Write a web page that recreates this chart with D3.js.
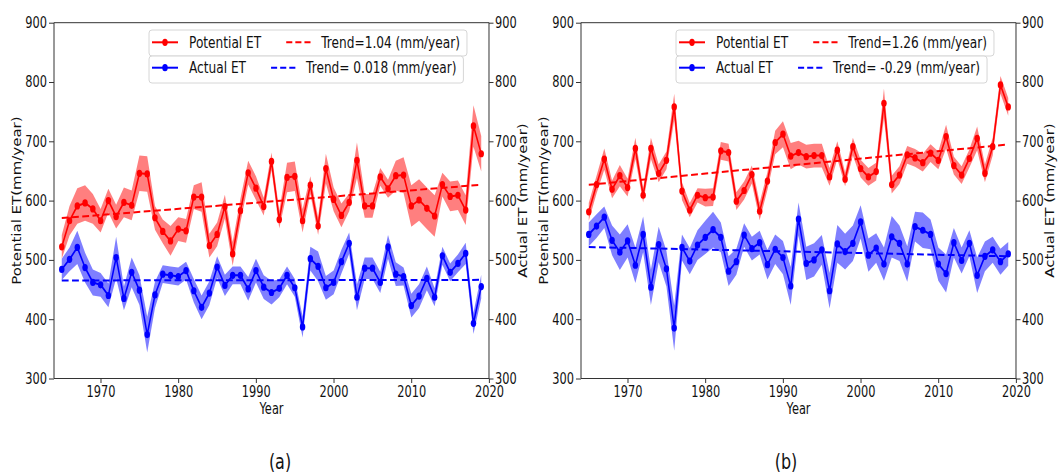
<!DOCTYPE html>
<html>
<head>
<meta charset="utf-8">
<script src="https://cdn.jsdelivr.net/npm/d3@7"></script>
<style>
  body { margin: 0; background: #fff; }
  text { font-family: "DejaVu Sans", sans-serif; fill: #111; }
</style>
</head>
<body>
<svg id="chart" width="1058" height="474"></svg>
<script>
// ---- data -------------------------------------------------------------
const years = [1965,1966,1967,1968,1969,1970,1971,1972,1973,1974,
               1975,1976,1977,1978,1979,1980,1981,1982,1983,1984,
               1985,1986,1987,1988,1989,1990,1991,1992,1993,1994,
               1995,1996,1997,1998,1999,2000,2001,2002,2003,2004,
               2005,2006,2007,2008,2009,2010,2011,2012,2013,2014,
               2015,2016,2017,2018,2019];

// panel (a)
const petA = [522,566,591,596,586,566,600,573,597,592,
              646,645,571,548,532,552,549,606,606,524,
              543,590,510,583,647,621,590,666,568,639,
              641,566,626,557,654,602,575,597,668,591,
              591,640,620,642,643,591,601,587,574,627,
              607,609,584,726,679];
const petASpread = [20,25,30,30,25,20,20,20,25,25,
                    30,30,20,20,25,20,20,20,25,20,
                    20,20,20,20,20,20,15,15,15,25,
                    25,20,15,15,25,20,20,15,30,20,
                    20,15,15,25,30,35,35,35,35,20,
                    25,25,25,35,30];
const aetA = [484,501,521,487,462,458,440,504,435,479,
              449,374,441,476,474,472,482,448,420,444,
              488,457,474,474,451,482,454,445,452,474,
              453,387,502,489,453,462,497,528,437,486,
              486,462,522,476,472,423,439,469,437,507,
              479,494,511,393,455];
const aetASpread = [18,20,28,25,22,20,20,35,20,25,
                    25,30,22,15,15,15,15,20,20,20,
                    18,18,15,15,20,20,20,20,15,15,
                    15,18,20,25,20,20,20,18,22,18,
                    18,18,20,20,15,20,20,20,15,15,
                    15,15,18,18,20];
const trendSlopesA = [1.04, 0.018];
const trendLabelsA = ["Trend=1.04 (mm/year)", "Trend= 0.018 (mm/year)"];

// panel (b)
const petB = [581,627,670,619,642,622,688,609,688,646,
              668,758,616,584,609,605,606,684,681,599,
              617,644,582,633,698,712,675,681,674,676,
              676,640,685,636,691,654,640,649,764,627,
              643,677,672,664,680,668,708,659,643,671,
              705,646,691,795,758];
const petBSpread = [15,15,18,15,18,15,18,12,18,15,
                    15,22,15,12,12,15,15,15,15,15,
                    15,15,15,15,20,22,22,20,20,20,
                    20,15,15,12,15,15,15,15,25,15,
                    15,15,15,15,15,15,20,15,15,15,
                    20,15,15,15,15];
const aetB = [543,557,572,533,513,532,491,543,454,526,
              485,385,521,498,525,538,551,538,481,497,
              542,519,529,492,518,504,456,569,494,500,
              517,448,527,514,528,564,508,520,493,539,
              528,493,556,550,543,493,477,529,499,528,
              474,506,517,497,510];
const aetBSpread = [20,20,18,25,30,28,30,30,30,30,
                    30,38,22,22,25,28,30,25,25,22,
                    20,20,20,25,25,28,32,28,28,28,
                    25,30,32,30,30,28,28,25,28,35,
                    30,30,25,30,25,28,32,25,22,22,
                    30,25,22,22,20];
const trendSlopesB = [1.26, -0.29];
const trendLabelsB = ["Trend=1.26 (mm/year)", "Trend= -0.29 (mm/year)"];

const seriesNames = ["Potential ET", "Actual ET"];
const yTicks = [300, 400, 500, 600, 700, 800, 900];
const xTicks = [1970, 1980, 1990, 2000, 2010, 2020];
const captions = ["(a)", "(b)"];

// ---- layout -----------------------------------------------------------
const S = 0.76;                 // the figure is drawn horizontally condensed
const ix = px => px / S;        // figure pixels -> inner (unscaled) units
const plotTop = 22.7, plotBottom = 378.5;
const RED = "#ff0000", BLUE = "#0000ff";

const svg = d3.select("#chart");
const root = svg.append("g").attr("transform", `scale(${S},1)`);

const panels = [
  { left: 54,  right: 489,  pet: petA, petSpread: petASpread, aet: aetA, aetSpread: aetASpread,
    slopes: trendSlopesA, trendLabels: trendLabelsA, caption: captions[0], captionX: 280 },
  { left: 581, right: 1016, pet: petB, petSpread: petBSpread, aet: aetB, aetSpread: aetBSpread,
    slopes: trendSlopesB, trendLabels: trendLabelsB, caption: captions[1], captionX: 786 }
];

panels.forEach(p => {
  const g = root.append("g");
  const x = d3.scaleLinear().domain([1964, 2020]).range([ix(p.left), ix(p.right)]);
  const y = d3.scaleLinear().domain([300, 900]).range([plotBottom, plotTop]);

  function drawSeries(values, spread, slope, color) {
    const band = d3.area()
      .x((d, i) => x(years[i]))
      .y0((d, i) => y(d - spread[i]))
      .y1((d, i) => y(d + spread[i]));
    g.append("path").datum(values).attr("d", band)
      .attr("fill", color).attr("fill-opacity", 0.5).attr("stroke", "none");

    const line = d3.line().x((d, i) => x(years[i])).y(d => y(d));
    g.append("path").datum(values).attr("d", line)
      .attr("fill", "none").attr("stroke", color).attr("stroke-width", 2)
      .attr("stroke-linejoin", "round");

    // least-squares trend line with the stated slope through the mean point
    const my = d3.mean(years), mv = d3.mean(values);
    const t = yr => mv + slope * (yr - my);
    const ends = [years[0], years[years.length - 1]];
    g.append("path").datum(ends)
      .attr("d", d3.line().x(d => x(d)).y(d => y(t(d))))
      .attr("fill", "none").attr("stroke", color).attr("stroke-width", 2)
      .attr("stroke-dasharray", "9,4.5");

    g.selectAll(null).data(values).enter().append("circle")
      .attr("cx", (d, i) => x(years[i])).attr("cy", d => y(d))
      .attr("r", 3.6).attr("fill", color);
  }

  drawSeries(p.pet, p.petSpread, p.slopes[0], RED);
  drawSeries(p.aet, p.aetSpread, p.slopes[1], BLUE);

  // frame
  g.append("rect")
    .attr("x", ix(p.left)).attr("y", plotTop)
    .attr("width", ix(p.right) - ix(p.left)).attr("height", plotBottom - plotTop)
    .attr("fill", "none").attr("stroke", "#333").attr("stroke-width", 1)
    .attr("vector-effect", "non-scaling-stroke");

  function styleAxis(sel) {
    sel.attr("font-size", 15).attr("font-family", "DejaVu Sans, sans-serif");
    sel.select(".domain").remove();
    sel.selectAll(".tick line").attr("stroke", "#333").attr("vector-effect", "non-scaling-stroke");
    sel.selectAll(".tick text").attr("fill", "#111");
  }

  g.append("g").attr("transform", `translate(${ix(p.left)},0)`)
    .call(d3.axisLeft(y).tickValues(yTicks).tickSize(ix(5)).tickPadding(ix(2)).tickSizeOuter(0))
    .call(styleAxis);
  g.append("g").attr("transform", `translate(${ix(p.right)},0)`)
    .call(d3.axisRight(y).tickValues(yTicks).tickSize(ix(4.5)).tickPadding(ix(1.5)).tickSizeOuter(0))
    .call(styleAxis);
  g.append("g").attr("transform", `translate(0,${plotBottom})`)
    .call(d3.axisBottom(x).tickValues(xTicks).tickFormat(d3.format("d"))
      .tickSize(4.5).tickPadding(3).tickSizeOuter(0))
    .call(styleAxis);

  const midY = (plotTop + plotBottom) / 2;
  g.append("text")
    .attr("transform", `translate(${ix(p.left - 37)},${midY}) rotate(-90)`)
    .attr("text-anchor", "middle").attr("dy", "0.35em")
    .attr("font-size", 15).text("Potential ET(mm/year)");
  g.append("text")
    .attr("transform", `translate(${ix(p.right + 34)},${midY}) rotate(-90)`)
    .attr("text-anchor", "middle").attr("dy", "0.35em")
    .attr("font-size", 15).text("Actual ET (mm/year)");
  g.append("text")
    .attr("x", ix((p.left + p.right) / 2)).attr("y", 414)
    .attr("text-anchor", "middle").attr("font-size", 15).text("Year");
  g.append("text")
    .attr("x", ix(p.captionX)).attr("y", 469)
    .attr("text-anchor", "middle").attr("font-size", 21).text(p.caption);

  // legends: one row per series, each with its own frame
  const boxL = p.left + 95;
  const rows = [
    { y0: 30, y1: 56, cy: 42.3, base: 48.3, color: RED,  name: seriesNames[0], trend: p.trendLabels[0] },
    { y0: 56, y1: 83, cy: 67.7, base: 73.3, color: BLUE, name: seriesNames[1], trend: p.trendLabels[1] }
  ];
  rows.forEach(r => {
    const lg = g.append("g");
    const box = lg.append("rect")
      .attr("x", ix(boxL)).attr("y", r.y0).attr("height", r.y1 - r.y0)
      .attr("rx", ix(3)).attr("ry", 3)
      .attr("fill", "#fff").attr("fill-opacity", 0.85)
      .attr("stroke", "#d6d6d6").attr("stroke-width", 1)
      .attr("vector-effect", "non-scaling-stroke");
    lg.append("line")
      .attr("x1", ix(boxL + 3)).attr("x2", ix(boxL + 29)).attr("y1", r.cy).attr("y2", r.cy)
      .attr("stroke", r.color).attr("stroke-width", 2);
    lg.append("circle").attr("cx", ix(boxL + 16)).attr("cy", r.cy).attr("r", 3.6).attr("fill", r.color);
    const t1 = lg.append("text").attr("x", ix(boxL + 40)).attr("y", r.base)
      .attr("font-size", 16).text(r.name);
    const end1 = boxL + 40 + t1.node().getComputedTextLength() * S;
    const h2 = end1 + 25;
    lg.append("line")
      .attr("x1", ix(h2)).attr("x2", ix(h2 + 25)).attr("y1", r.cy).attr("y2", r.cy)
      .attr("stroke", r.color).attr("stroke-width", 2).attr("stroke-dasharray", "8,4");
    const t2 = lg.append("text").attr("x", ix(h2 + 35)).attr("y", r.base)
      .attr("font-size", 16).text(r.trend);
    const end2 = h2 + 35 + t2.node().getComputedTextLength() * S;
    box.attr("width", ix(end2 + 7) - ix(boxL));
  });
});
</script>
</body>
</html>
